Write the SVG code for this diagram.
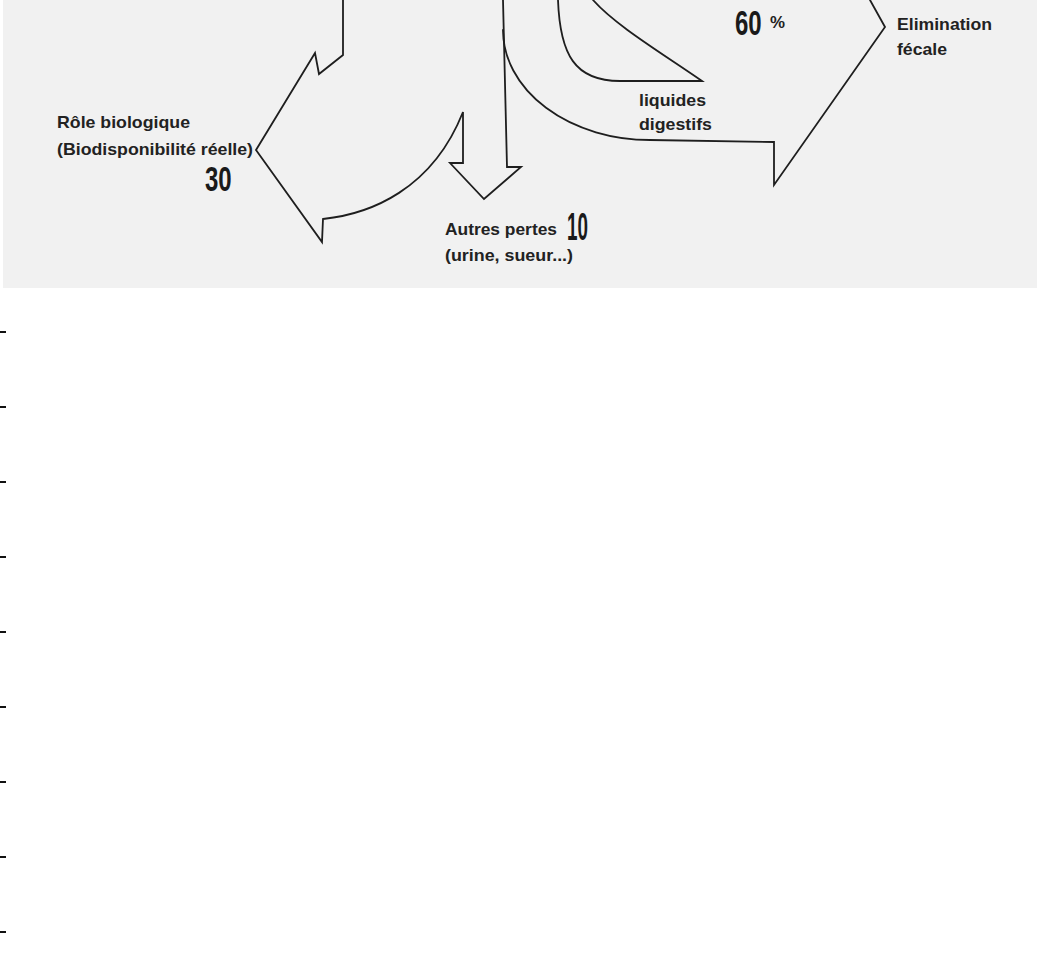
<svg xmlns="http://www.w3.org/2000/svg" width="1037" height="969" viewBox="0 0 1037 969">
<style>
.bg{fill:#f1f1f1}
.ln{fill:none;stroke:#1e1e1e;stroke-width:1.8;stroke-linejoin:miter;stroke-linecap:round}
.t{font-family:"Liberation Sans",Arial,sans-serif;font-weight:bold;font-size:17px;fill:#222}
.n{font-family:"Liberation Sans",Arial,sans-serif;font-weight:bold;font-size:24px;fill:#1a1a1a}
.dash{stroke:#111;stroke-width:2}
</style>
<rect x="0" y="0" width="1037" height="969" fill="#ffffff"/>
<rect class="bg" x="3" y="0" width="1034" height="288"/>
<g id="connectors">
<path id="arrow-role" class="ln" d="M343,0 L343,55 L319,74 L315,53 L256,150 L322,242 L323,219 C370,214 432,190 463,112 L463,163 L450,163 L484,199 L521,167 L507,167 L503,0"/>
<path id="arrow-fecale" class="ln" d="M503,30 A147,110 0 0 0 650,140 L774,142 L774,185 L885,27 L870,0"/>
<path id="arrow-liquides" class="ln" d="M558,0 C560,55 575,81 620,81 L702,81 C660,52 615,25 593,0"/>
</g>
<g id="node-role">
<text class="t" x="57" y="128" textLength="133" lengthAdjust="spacingAndGlyphs">Rôle biologique</text>
<text class="t" x="57" y="155" textLength="196" lengthAdjust="spacingAndGlyphs">(Biodisponibilité réelle)</text>
<text class="n" transform="translate(205,191) scale(1,1.44)">30</text>
</g>
<g id="node-autres">
<text class="t" x="445" y="235" textLength="112" lengthAdjust="spacingAndGlyphs">Autres pertes</text>
<text class="n" transform="translate(567,240) scale(1,1.65)" font-size="23" textLength="21" lengthAdjust="spacingAndGlyphs">10</text>
<text class="t" x="445" y="261" textLength="128" lengthAdjust="spacingAndGlyphs">(urine, sueur...)</text>
</g>
<g id="node-60">
<text class="n" transform="translate(735,35) scale(1,1.45)">60</text>
<text class="t" x="770" y="28" font-size="14" textLength="15" lengthAdjust="spacingAndGlyphs">%</text>
</g>
<g id="node-liquides">
<text class="t" x="639" y="106" textLength="67" lengthAdjust="spacingAndGlyphs">liquides</text>
<text class="t" x="639" y="130" textLength="73" lengthAdjust="spacingAndGlyphs">digestifs</text>
</g>
<g id="node-elimination">
<text class="t" x="897" y="30" textLength="95" lengthAdjust="spacingAndGlyphs">Elimination</text>
<text class="t" x="897" y="55" textLength="50" lengthAdjust="spacingAndGlyphs">fécale</text>
</g>
<g id="margin-ticks">
<line class="dash" x1="0" y1="332" x2="6" y2="332"/>
<line class="dash" x1="0" y1="407" x2="6" y2="407"/>
<line class="dash" x1="0" y1="482" x2="6" y2="482"/>
<line class="dash" x1="0" y1="557" x2="6" y2="557"/>
<line class="dash" x1="0" y1="632" x2="6" y2="632"/>
<line class="dash" x1="0" y1="707" x2="6" y2="707"/>
<line class="dash" x1="0" y1="782" x2="6" y2="782"/>
<line class="dash" x1="0" y1="857" x2="6" y2="857"/>
<line class="dash" x1="0" y1="932" x2="6" y2="932"/>
</g>
</svg>
